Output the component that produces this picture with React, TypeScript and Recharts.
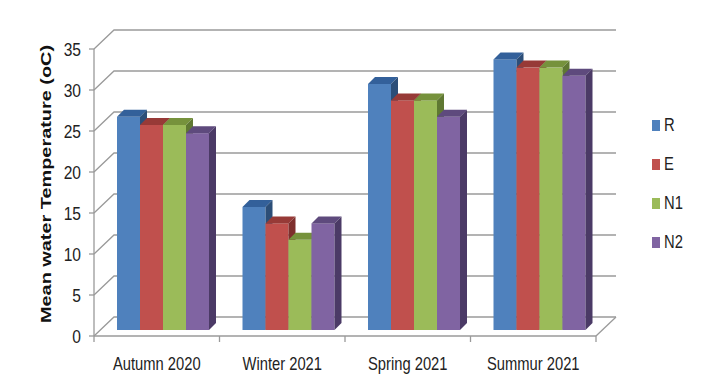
import React from "react";
import { Bar, BarChart, CartesianGrid, XAxis, YAxis } from "recharts";

const categories = ["Autumn 2020", "Winter 2021", "Spring 2021", "Summur 2021"];
const seriesNames = ["R", "E", "N1", "N2"];
const valuesR = [26, 15, 30, 33];
const valuesE = [25, 13, 28, 32];
const valuesN1 = [25, 11, 28, 32];
const valuesN2 = [24, 13, 26, 31];
const yTicks = [0, 5, 10, 15, 20, 25, 30, 35];

const seriesValues = [valuesR, valuesE, valuesN1, valuesN2];

// front / top / side faces
const palette = [
  ["#4F81BD", "#33609A", "#2C4E78"],
  ["#C0504D", "#973A37", "#7E2F2D"],
  ["#9BBB59", "#76923C", "#5F7832"],
  ["#8064A2", "#5E4A7D", "#4B3A66"],
];

const data = categories.map((name, i) => {
  const row: Record<string, string | number> = { name };
  seriesNames.forEach((s, j) => {
    row[s] = seriesValues[j][i];
  });
  return row;
});

const WIDTH = 708;
const HEIGHT = 385;
const Y_AXIS_W = 60;
const X_AXIS_H = 30;
const MARGIN = { top: 49, right: 112, bottom: 19, left: 34 };
const PLOT_LEFT = MARGIN.left + Y_AXIS_W;
const PLOT_BOTTOM = HEIGHT - MARGIN.bottom - X_AXIS_H;
const BAND = (WIDTH - MARGIN.right - PLOT_LEFT) / categories.length;

// depth offsets of the fake 3d box
const WALL_DX = 20;
const WALL_DY = 19;
const BAR_SHIFT = 6;
const BAR_DEPTH = 7;

const GRID = "#9A9A9A";
const FONT = "'Liberation Sans', Arial, sans-serif";
const SQUEEZE = 0.82; // narrow the glyphs to look like the calibri labels

function Bar3D(props: any) {
  const { x, y, width, height, colors } = props;
  if (height == null || height <= 0) return null;
  const fx = x + BAR_SHIFT;
  const fy = y - BAR_SHIFT;
  const d = BAR_DEPTH;
  const top = `${fx},${fy} ${fx + d},${fy - d} ${fx + width + d},${fy - d} ${fx + width},${fy}`;
  const side = `${fx + width},${fy} ${fx + width + d},${fy - d} ${fx + width + d},${fy + height - d} ${fx + width},${fy + height}`;
  return (
    <g>
      <rect x={fx} y={fy} width={width} height={height} fill={colors[0]} />
      <polygon points={top} fill={colors[1]} />
      <polygon points={side} fill={colors[2]} />
    </g>
  );
}

function GridLine(props: any) {
  const { x1, x2, y1 } = props;
  const bx = x1 + WALL_DX;
  const by = y1 - WALL_DY;
  const isFloor = Math.abs(y1 - PLOT_BOTTOM) < 1;
  return (
    <g key={props.key}>
      <polyline
        points={`${x1},${y1} ${bx},${by} ${x2 + WALL_DX},${by}`}
        fill="none"
        stroke={GRID}
        strokeWidth={1.3}
      />
      {isFloor && (
        <line x1={x2} y1={y1} x2={x2 + WALL_DX} y2={by} stroke={GRID} strokeWidth={1.3} />
      )}
    </g>
  );
}

function XTick(props: any) {
  const { x, payload, index } = props;
  const left = x - BAND / 2;
  return (
    <g>
      <line x1={left} y1={PLOT_BOTTOM} x2={left} y2={PLOT_BOTTOM + 6} stroke={GRID} strokeWidth={1.3} />
      {index === categories.length - 1 && (
        <line x1={x + BAND / 2} y1={PLOT_BOTTOM} x2={x + BAND / 2} y2={PLOT_BOTTOM + 6} stroke={GRID} strokeWidth={1.3} />
      )}
      <text
        transform={`translate(${x}, ${PLOT_BOTTOM + 34}) scale(${SQUEEZE}, 1)`}
        textAnchor="middle"
        fontSize={18}
        fontFamily={FONT}
        fill="#222"
      >
        {payload.value}
      </text>
    </g>
  );
}

function YTick(props: any) {
  const { y, payload } = props;
  return (
    <text
      transform={`translate(${PLOT_LEFT - 13}, ${y + 7}) scale(${SQUEEZE}, 1)`}
      textAnchor="end"
      fontSize={19}
      fontFamily={FONT}
      fill="#222"
    >
      {payload.value}
    </text>
  );
}

function YLabel() {
  return (
    <text
      x={51}
      y={184}
      transform="rotate(-90, 51, 184)"
      textAnchor="middle"
      fontSize={15}
      fontWeight="bold"
      fontFamily={FONT}
      textLength={278}
      lengthAdjust="spacingAndGlyphs"
      fill="#111"
    >
      Mean water Temperature (oC)
    </text>
  );
}

function LegendBox() {
  return (
    <div style={{ position: "absolute", left: 652, top: 106.6 }}>
      {seriesNames.map((s, i) => (
        <div key={s} style={{ display: "flex", alignItems: "center", height: 38.7 }}>
          <span style={{ width: 8, height: 11, background: palette[i][0], display: "inline-block" }} />
          <span
            style={{
              marginLeft: 4,
              fontSize: 18,
              fontFamily: FONT,
              color: "#222",
              display: "inline-block",
              transform: `scaleX(${SQUEEZE})`,
              transformOrigin: "left center",
            }}
          >
            {s}
          </span>
        </div>
      ))}
    </div>
  );
}

export default function App() {
  return (
    <div style={{ position: "absolute", left: 0, top: 0, width: WIDTH, height: HEIGHT, background: "#fff" }}>
      <BarChart
        width={WIDTH}
        height={HEIGHT}
        data={data}
        margin={MARGIN}
        barSize={23}
        barGap={0}
      >
        <CartesianGrid vertical={false} horizontal={(p: any) => <GridLine {...p} />} />
        <XAxis
          dataKey="name"
          height={X_AXIS_H}
          tickLine={false}
          axisLine={{ stroke: GRID, strokeWidth: 1.3 }}
          tick={(p: any) => <XTick {...p} />}
          interval={0}
        />
        <YAxis
          width={Y_AXIS_W}
          domain={[0, 35]}
          ticks={yTicks}
          interval={0}
          tickSize={5}
          tickLine={{ stroke: GRID, strokeWidth: 1.3 }}
          axisLine={{ stroke: GRID, strokeWidth: 1.3 }}
          tick={(p: any) => <YTick {...p} />}
          label={() => <YLabel />}
        />
        {seriesNames.map((s, i) => (
          <Bar
            key={s}
            dataKey={s}
            isAnimationActive={false}
            shape={(p: any) => <Bar3D {...p} colors={palette[i]} />}
          />
        ))}
      </BarChart>
      <LegendBox />
    </div>
  );
}
